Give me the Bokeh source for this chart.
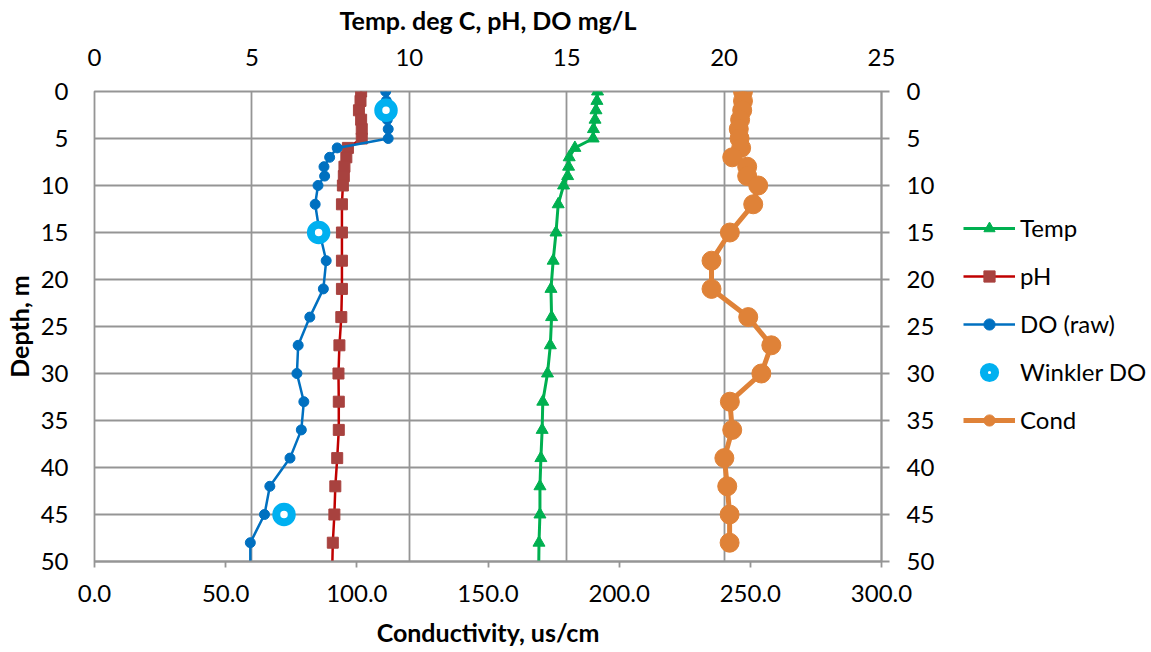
from bokeh.plotting import figure
from bokeh.layouts import row
from bokeh.models import (Range1d, LinearAxis, SingleIntervalTicker, PrintfTickFormatter,
                          Legend, LegendItem, ColumnDataSource)
from bokeh.embed import file_html
from bokeh.resources import INLINE

# ---- data ----
depth = [0, 1, 2, 3, 4, 5, 6, 7, 8, 9, 10, 12, 15, 18, 21, 24, 27, 30, 33, 36, 39, 42, 45, 48, 51]
temp = [15.98, 15.96, 15.93, 15.90, 15.85, 15.84, 15.26, 15.08, 15.06, 15.03, 14.90, 14.73, 14.66,
        14.57, 14.50, 14.52, 14.48, 14.39, 14.24, 14.22, 14.18, 14.15, 14.15, 14.12, 14.11]
ph = [8.47, 8.45, 8.40, 8.47, 8.49, 8.49, 8.05, 8.00, 7.94, 7.92, 7.89, 7.86, 7.86,
      7.86, 7.86, 7.84, 7.78, 7.75, 7.76, 7.76, 7.71, 7.65, 7.62, 7.57, 7.55]
do_raw = [9.25, 9.27, 9.28, 9.30, 9.33, 9.33, 7.71, 7.47, 7.29, 7.31, 7.10, 7.01, 7.15,
          7.36, 7.27, 6.84, 6.47, 6.43, 6.65, 6.57, 6.21, 5.57, 5.40, 4.95, 4.95]
winkler_depth = [2, 15, 45]
winkler_do = [9.26, 7.12, 6.02]
cond_depth = [0, 1, 2, 3, 4, 5, 6, 7, 8, 9, 10, 12, 15, 18, 21, 24, 27, 30, 33, 36, 39, 42, 45, 48]
cond = [247.2, 247.2, 246.9, 246.1, 245.6, 245.9, 246.5, 243.1, 248.8, 248.8, 253.0, 251.1, 242.2,
        235.2, 235.2, 249.2, 258.0, 254.2, 242.2, 243.1, 240.1, 241.2, 242.1, 242.1]

series_names = ["Temp", "pH", "DO (raw)", "Winkler DO", "Cond"]
top_title = "Temp. deg C, pH, DO mg/L"
bottom_title = "Conductivity, us/cm"
left_title = "Depth, m"

FONT = "Lato"
FS = "24px"
TFS = "25px"
GRID = "#959595"
C_T, C_PH_L, C_PH_M, C_DO, C_W, C_C = "#00B050", "#C00000", "#A8423F", "#0070C0", "#00B0F0", "#DF8238"

src = ColumnDataSource(dict(depth=depth, temp=temp, ph=ph, do=do_raw))
wsrc = ColumnDataSource(dict(depth=winkler_depth, do=winkler_do))
csrc = ColumnDataSource(dict(depth=cond_depth, cond=cond))

p = figure(width=941, height=652, output_backend="svg", toolbar_location=None,
           x_range=Range1d(0, 25), y_range=Range1d(50, 0), x_axis_location="above",
           min_border_left=93, min_border_right=60, min_border_top=91, min_border_bottom=91)
p.extra_x_ranges = {"cond": Range1d(0, 300)}
p.background_fill_color = "white"
p.border_fill_color = "white"
p.outline_line_color = GRID
p.outline_line_width = 1.8

xa = p.xaxis[0]
xa.ticker = SingleIntervalTicker(interval=5)
xa.axis_label = top_title
ya = p.yaxis[0]
ya.ticker = SingleIntervalTicker(interval=5)
ya.axis_label = left_title

ba = LinearAxis(x_range_name="cond", ticker=SingleIntervalTicker(interval=50),
                formatter=PrintfTickFormatter(format="%.1f"), axis_label=bottom_title)
p.add_layout(ba, "below")
ra = LinearAxis(ticker=SingleIntervalTicker(interval=5))
p.add_layout(ra, "right")

for ax in [xa, ya, ba, ra]:
    ax.major_label_text_font = FONT
    ax.major_label_text_font_size = FS
    ax.major_label_text_color = "black"
    ax.axis_label_text_font = FONT
    ax.axis_label_text_font_size = TFS
    ax.axis_label_text_font_style = "bold"
    ax.axis_label_text_color = "black"
    ax.minor_tick_line_color = None
    ax.axis_line_color = GRID
    ax.axis_line_width = 1.8
    ax.major_tick_line_color = GRID
    ax.major_tick_line_width = 1.8
    ax.major_tick_in = 0

xa.major_tick_out = 0
xa.axis_line_color = None
xa.major_label_standoff = 22
xa.axis_label_standoff = 11
ya.major_tick_out = 0
ya.axis_line_color = None
ya.major_label_standoff = 22
ya.axis_label_standoff = 4
ba.major_tick_out = 6
ba.major_label_standoff = 17
ba.axis_label_standoff = 12
ra.major_tick_out = 8
ra.major_label_standoff = 17

p.xgrid.ticker = SingleIntervalTicker(interval=5)
p.xgrid.grid_line_color = GRID
p.xgrid.grid_line_width = 1.8
p.ygrid.ticker = SingleIntervalTicker(interval=5)
p.ygrid.grid_line_color = GRID
p.ygrid.grid_line_width = 1.8

# series
p.line("temp", "depth", source=src, line_color=C_T, line_width=3)
p.scatter("temp", "depth", source=src, marker="triangle", size=12, fill_color=C_T, line_color=C_T)
p.line("ph", "depth", source=src, line_color=C_PH_L, line_width=2.5)
p.scatter("ph", "depth", source=src, marker="square", size=11, fill_color=C_PH_M, line_color=C_PH_M)
p.line("do", "depth", source=src, line_color=C_DO, line_width=2.5)
p.scatter("do", "depth", source=src, marker="circle", size=10, fill_color=C_DO, line_color=C_DO)
p.scatter("do", "depth", source=wsrc, marker="circle", size=15.5,
          fill_color="white", line_color=C_W, line_width=8)
p.line("cond", "depth", source=csrc, x_range_name="cond", line_color=C_C, line_width=5)
p.scatter("cond", "depth", source=csrc, x_range_name="cond", marker="circle", size=19,
          fill_color=C_C, line_color=C_C)

# ---- legend panel (separate figure to the right) ----
lg = figure(width=210, height=652, output_backend="svg", toolbar_location=None,
            x_range=Range1d(0, 1), y_range=Range1d(0, 1), x_axis_type=None, y_axis_type=None,
            min_border=0, min_border_left=0, min_border_right=0, min_border_top=0,
            min_border_bottom=0)
lg.outline_line_color = None
lg.grid.visible = False
lg.background_fill_color = "white"
lg.border_fill_color = "white"
off = dict(x=[-10], y=[-10])
r_t = [lg.line(line_color=C_T, line_width=3, **off),
       lg.scatter(marker="triangle", size=12, fill_color=C_T, line_color=C_T, **off)]
r_ph = [lg.line(line_color=C_PH_L, line_width=2.5, **off),
        lg.scatter(marker="square", size=11, fill_color=C_PH_M, line_color=C_PH_M, **off)]
r_do = [lg.line(line_color=C_DO, line_width=2.5, **off),
        lg.scatter(marker="circle", size=10, fill_color=C_DO, line_color=C_DO, **off)]
r_w = [lg.scatter(marker="circle", size=15.5, fill_color="white", line_color=C_W,
                  line_width=8, **off)]
r_c = [lg.line(line_color=C_C, line_width=5, **off),
       lg.scatter(marker="circle", size=19, fill_color=C_C, line_color=C_C, **off)]

legend = Legend(items=[LegendItem(label=n, renderers=r)
                       for n, r in zip(series_names, [r_t, r_ph, r_do, r_w, r_c])],
                location=(22, 127), glyph_width=52, glyph_height=28, label_height=28,
                spacing=19, label_standoff=5, padding=0, margin=0, border_line_color=None,
                background_fill_alpha=0, label_text_font=FONT, label_text_font_size=FS,
                label_text_color="black")
lg.add_layout(legend)

layout = row(p, lg, spacing=0)
open("out.html", "w").write(file_html(layout, INLINE))
